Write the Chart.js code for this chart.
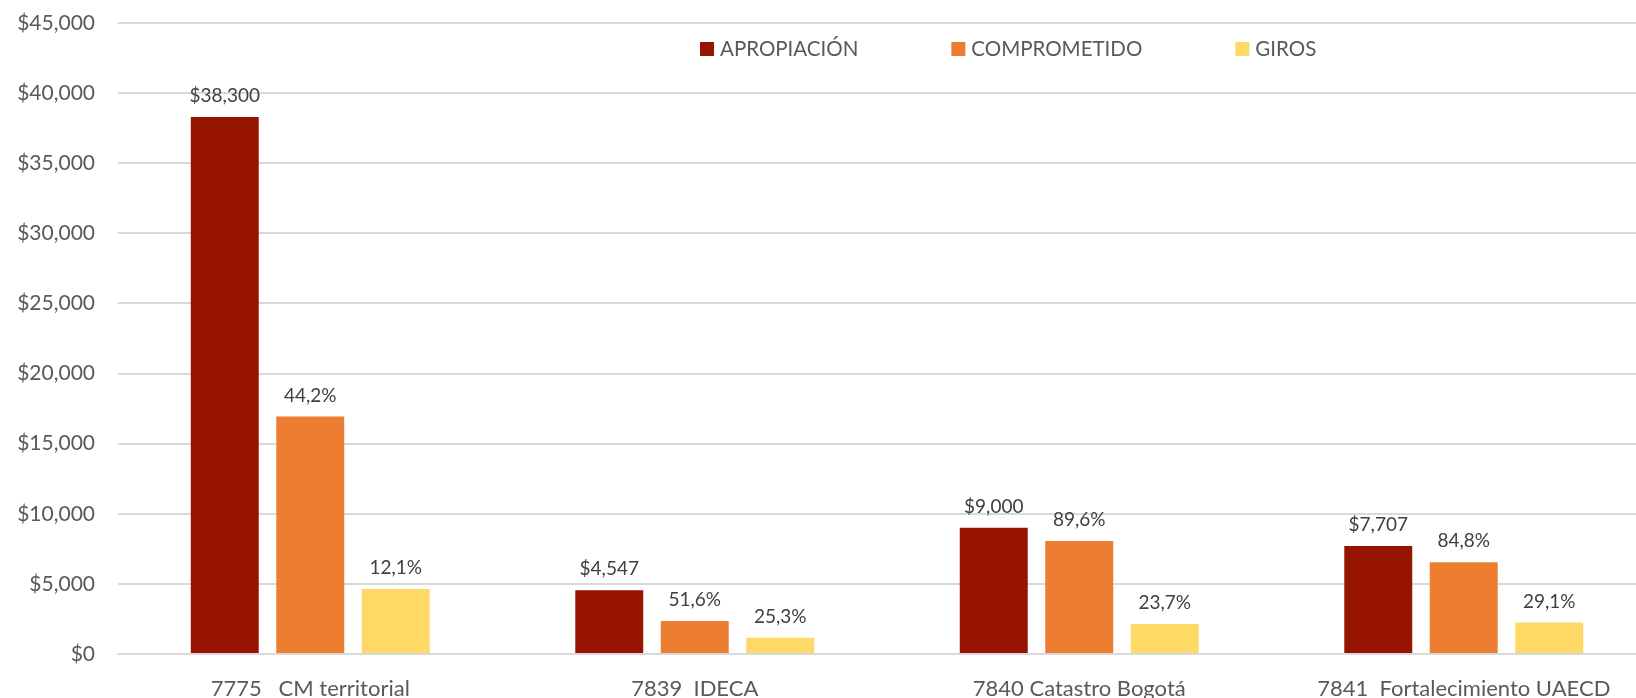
<!DOCTYPE html>
<html>
<head>
<meta charset="utf-8">
<script src="https://cdn.jsdelivr.net/npm/chart.js@4.4.0/dist/chart.umd.min.js"></script>
<style>
  html, body { margin: 0; padding: 0; background: #fff; overflow: hidden; }
  #wrap { position: relative; width: 1660px; height: 720px; }
</style>
</head>
<body>
<div id="wrap"><canvas id="barChart"></canvas></div>
<script>
// DATA ######################################################################

var categories = ["7775   CM territorial", "7839  IDECA", "7840 Catastro Bogotá", "7841  Fortalecimiento UAECD"];
var seriesNames = ["APROPIACIÓN", "COMPROMETIDO", "GIROS"];
var apropiacion = [38300, 4547, 9000, 7707];
var comprometido = [16929, 2346, 8064, 6536];
var giros = [4634, 1150, 2133, 2243];
var comprometidoLabels = ["44,2%", "51,6%", "89,6%", "84,8%"];
var girosLabels = ["12,1%", "25,3%", "23,7%", "29,1%"];
var yMax = 45000;
var yStep = 5000;

var colors = ["#961300", "#ED7D31", "#FFD966"];

function money(v) {
    return "$" + v.toLocaleString("en-US");
}

// PLUGINS ###################################################################

// value labels above each bar
var barLabels = {
    id: "barLabels",
    afterDatasetsDraw: function (chart) {
        var ctx = chart.ctx;
        ctx.save();
        ctx.font = "19px Lato";
        ctx.fillStyle = "#404040";
        ctx.textAlign = "center";
        ctx.textBaseline = "alphabetic";
        chart.data.datasets.forEach(function (ds, i) {
            var meta = chart.getDatasetMeta(i);
            meta.data.forEach(function (bar, j) {
                ctx.fillText(ds.valueLabels[j], bar.x, bar.y - 15);
            });
        });
        ctx.restore();
    }
};

// legend drawn over the plot, like the Excel one
var overLegend = {
    id: "overLegend",
    afterDraw: function (chart) {
        var ctx = chart.ctx;
        var x = 700;
        ctx.save();
        ctx.font = "20.5px Lato";
        ctx.textBaseline = "alphabetic";
        ctx.textAlign = "left";
        chart.data.datasets.forEach(function (ds) {
            ctx.fillStyle = ds.backgroundColor;
            ctx.fillRect(x, 42, 14, 14);
            ctx.fillStyle = "#595959";
            ctx.fillText(ds.label, x + 20, 56);
            x += 20 + ctx.measureText(ds.label).width + 93;
        });
        ctx.restore();
    }
};

// BAR CHART #################################################################

var data = {
    labels: categories,
    datasets: [
        {
            label: seriesNames[0],
            data: apropiacion,
            backgroundColor: colors[0],
            valueLabels: apropiacion.map(money)
        },
        {
            label: seriesNames[1],
            data: comprometido,
            backgroundColor: colors[1],
            valueLabels: comprometidoLabels
        },
        {
            label: seriesNames[2],
            data: giros,
            backgroundColor: colors[2],
            valueLabels: girosLabels
        }
    ]
};

var myBarChart = new Chart(document.getElementById("barChart"), {
    type: "bar",
    data: data,
    options: {
        responsive: true,
        maintainAspectRatio: false,
        animation: false,
        layout: { padding: { top: 23, right: 4, left: 0, bottom: 0 } },
        categoryPercentage: 0.667,
        barPercentage: 0.795,
        plugins: {
            legend: { display: false },
            tooltip: { enabled: false }
        },
        scales: {
            x: {
                grid: { display: false },
                border: { color: "#d9d9d9", width: 2 },
                ticks: {
                    color: "#595959",
                    font: { family: "Lato", size: 22 },
                    padding: 14,
                    maxRotation: 0,
                    autoSkip: false
                },
                afterFit: function (scale) { scale.height = 66; }
            },
            y: {
                min: 0,
                max: yMax,
                grid: { color: "#d9d9d9", lineWidth: 2, drawTicks: false },
                border: { display: false },
                ticks: {
                    stepSize: yStep,
                    color: "#595959",
                    font: { family: "Lato", size: 21 },
                    padding: 23,
                    callback: function (v) { return money(v); }
                },
                afterFit: function (scale) {
                    scale.width = 118;
                    scale.paddingTop = 0;
                    scale.paddingBottom = 0;
                }
            }
        }
    },
    plugins: [barLabels, overLegend]
});
</script>
</body>
</html>
